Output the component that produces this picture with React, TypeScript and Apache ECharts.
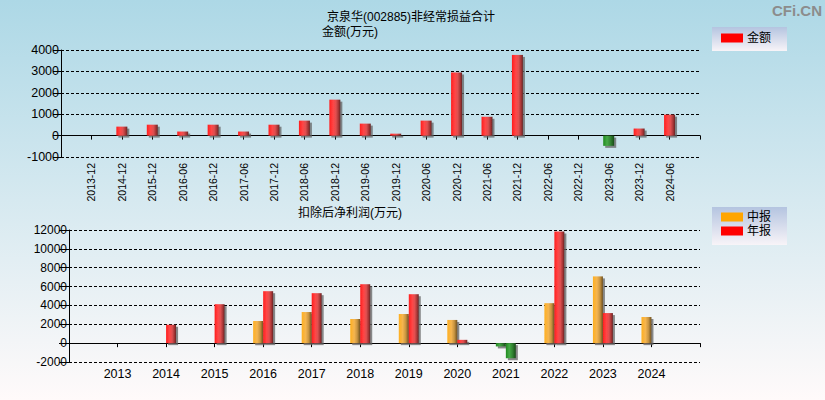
import React, { useEffect, useRef } from "react";
import * as echarts from "echarts";

const topCategories = [
  "2013-12", "2014-12", "2015-12", "2016-06", "2016-12", "2017-06", "2017-12",
  "2018-06", "2018-12", "2019-06", "2019-12", "2020-06", "2020-12", "2021-06",
  "2021-12", "2022-06", "2022-12", "2023-06", "2023-12", "2024-06",
];
const topValues = [
  null, 420, 510, 190, 510, 190, 510, 700, 1680, 560, 90, 700, 2950, 880, 3770,
  null, null, -480, 330, 980,
];
const years = [
  "2013", "2014", "2015", "2016", "2017", "2018", "2019", "2020", "2021", "2022", "2023", "2024",
];
const midValues = [null, null, null, 2350, 3300, 2560, 3090, 2460, -350, 4240, 7080, 2770];
const annualValues = [null, 1950, 4130, 5510, 5300, 6250, 5190, 350, -1600, 11850, 3190, null];
const topTicks = { min: -1000, max: 4000, interval: 1000 };
const bottomTicks = { min: -2000, max: 12000, interval: 2000 };

const FONT = '"Liberation Sans", "Noto Sans CJK SC", sans-serif';

const grad = (stops: [number, string][]) => ({
  type: "linear",
  x: 0,
  y: 0,
  x2: 1,
  y2: 0,
  colorStops: stops.map(([offset, color]) => ({ offset, color })),
});

const RED = grad([
  [0, "#ff1e1e"],
  [0.35, "#ff4646"],
  [0.6, "#e05050"],
  [0.85, "#a03232"],
  [1, "#642424"],
]);
const ORANGE = grad([
  [0, "#ffb020"],
  [0.4, "#f5b550"],
  [0.7, "#c89440"],
  [1, "#6e5020"],
]);
const GREEN = grad([
  [0, "#1e8a1e"],
  [0.35, "#46aa46"],
  [0.7, "#2e7e2e"],
  [1, "#1a4a1a"],
]);

const shadow = {
  shadowColor: "rgba(100,100,100,0.75)",
  shadowOffsetX: 2,
  shadowOffsetY: 2,
  shadowBlur: 0,
};

const toItems = (vals: (number | null)[], color: any) =>
  vals.map((v) =>
    v == null
      ? null
      : { value: v, itemStyle: { color: v < 0 ? GREEN : color, ...shadow } }
  );

export default function App() {
  const ref = useRef<HTMLDivElement>(null);

  useEffect(() => {
    if (!ref.current) return;
    const chart = echarts.init(ref.current, null, { renderer: "svg" });

    const axisLineStyle = { color: "#000", width: 1 };
    const splitLine = {
      show: true,
      lineStyle: { color: "#000", type: [3, 2], width: 1 },
    };
    const plain = (v: number) => String(v);

    chart.setOption({
      animation: false,
      backgroundColor: {
        type: "linear",
        x: 0,
        y: 0,
        x2: 0,
        y2: 1,
        colorStops: [
          { offset: 0, color: "#add8e6" },
          { offset: 1, color: "#fffafa" },
        ],
      },
      textStyle: { fontFamily: FONT },
      graphic: [
        {
          type: "text",
          x: 411,
          y: 17,
          style: {
            text: "京泉华(002885)非经常损益合计",
            font: `12px ${FONT}`,
            fill: "#000",
            textAlign: "center",
            textVerticalAlign: "middle",
          },
        },
        {
          type: "text",
          x: 322,
          y: 32,
          style: {
            text: "金额(万元)",
            font: `12px ${FONT}`,
            fill: "#000",
            textAlign: "left",
            textVerticalAlign: "middle",
          },
        },
        {
          type: "text",
          x: 298,
          y: 212.5,
          style: {
            text: "扣除后净利润(万元)",
            font: `12px ${FONT}`,
            fill: "#000",
            textAlign: "left",
            textVerticalAlign: "middle",
          },
        },
        {
          type: "text",
          right: 3,
          top: 3,
          style: {
            text: "CFi.CN",
            font: `bold 15px ${FONT}`,
            fill: "#8c8c8c",
          },
        },
        {
          type: "rect",
          shape: { x: 712, y: 27, width: 75, height: 24 },
          style: {
            fill: {
              type: "linear",
              x: 0,
              y: 0,
              x2: 0,
              y2: 1,
              colorStops: [
                { offset: 0, color: "#b4c4e0" },
                { offset: 1, color: "#f8f4f8" },
              ],
            },
          },
          z: -1,
        },
        {
          type: "rect",
          shape: { x: 712, y: 207, width: 75, height: 38 },
          style: {
            fill: {
              type: "linear",
              x: 0,
              y: 0,
              x2: 0,
              y2: 1,
              colorStops: [
                { offset: 0, color: "#b4c4e0" },
                { offset: 1, color: "#f8f4f8" },
              ],
            },
          },
          z: -1,
        },
      ],
      legend: [
        {
          data: [{ name: "金额", itemStyle: { color: "#ff0000" } }],
          left: 721,
          top: 32,
          itemWidth: 22,
          itemHeight: 9,
          icon: "rect",
          itemGap: 0,
          padding: 0,
          textStyle: { fontSize: 12, color: "#000", fontFamily: FONT, padding: [0, 0, 0, -1] },
        },
        {
          data: [
            { name: "中报", itemStyle: { color: "#ffa500" } },
            { name: "年报", itemStyle: { color: "#ff0000" } },
          ],
          orient: "vertical",
          left: 721,
          top: 211,
          itemWidth: 22,
          itemHeight: 9,
          icon: "rect",
          itemGap: 2,
          padding: 0,
          textStyle: { fontSize: 12, color: "#000", fontFamily: FONT, padding: [0, 0, 0, -1] },
        },
      ],
      grid: [
        { left: 61, top: 50, width: 639, height: 107 },
        { left: 69, top: 230, width: 631, height: 132 },
      ],
      xAxis: [
        {
          gridIndex: 0,
          type: "category",
          boundaryGap: false,
          data: ["", ...topCategories, ""],
          axisLine: { show: true, lineStyle: axisLineStyle },
          axisTick: { show: true, interval: 0, length: 4, lineStyle: axisLineStyle },
          axisLabel: {
            interval: 0,
            rotate: 90,
            fontSize: 10.5,
            color: "#000",
            margin: 6,
            fontFamily: FONT,
          },
          splitLine: { show: false },
        },
        {
          gridIndex: 1,
          type: "category",
          boundaryGap: false,
          data: ["", ...years, ""],
          axisLine: { show: true, lineStyle: axisLineStyle },
          axisTick: { show: true, interval: 0, length: 4, lineStyle: axisLineStyle },
          axisLabel: {
            interval: 0,
            fontSize: 12.5,
            color: "#000",
            margin: 6,
            fontFamily: FONT,
          },
          splitLine: { show: false },
        },
      ],
      yAxis: [
        {
          gridIndex: 0,
          type: "value",
          min: topTicks.min,
          max: topTicks.max,
          interval: topTicks.interval,
          axisLine: { show: true, lineStyle: axisLineStyle },
          axisTick: { show: true, length: 8, lineStyle: axisLineStyle },
          axisLabel: { fontSize: 12.5, color: "#000", margin: 2, fontFamily: FONT, formatter: plain },
          splitLine,
        },
        {
          gridIndex: 1,
          type: "value",
          min: bottomTicks.min,
          max: bottomTicks.max,
          interval: bottomTicks.interval,
          axisLine: { show: true, lineStyle: axisLineStyle },
          axisTick: { show: true, length: 10, lineStyle: axisLineStyle },
          axisLabel: { fontSize: 12, color: "#000", margin: 2, fontFamily: FONT, formatter: plain },
          splitLine,
        },
      ],
      series: [
        {
          name: "金额",
          type: "bar",
          xAxisIndex: 0,
          yAxisIndex: 0,
          barWidth: 11,
          data: [null, ...toItems(topValues, RED), null],
        },
        {
          name: "中报",
          type: "bar",
          xAxisIndex: 1,
          yAxisIndex: 1,
          barWidth: 10,
          barGap: "0%",
          data: [null, ...toItems(midValues, ORANGE), null],
        },
        {
          name: "年报",
          type: "bar",
          xAxisIndex: 1,
          yAxisIndex: 1,
          barWidth: 10,
          barGap: "0%",
          data: [null, ...toItems(annualValues, RED), null],
        },
      ],
    });

    return () => chart.dispose();
  }, []);

  return (
    <div
      ref={ref}
      style={{ position: "absolute", left: 0, top: 0, width: 825, height: 400 }}
    />
  );
}
